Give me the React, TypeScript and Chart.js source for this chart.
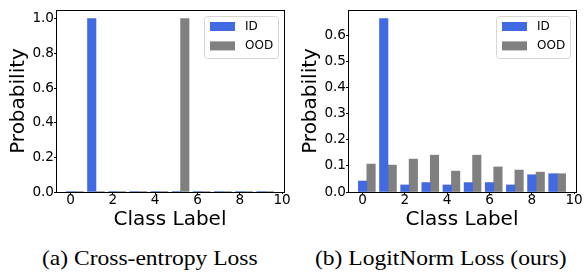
import React, { useEffect, useRef } from "react";
import { Chart, registerables } from "chart.js";

Chart.register(...registerables);

// ---- data ----
const classLabels = [0, 1, 2, 3, 4, 5, 6, 7, 8, 9];
const seriesNames = ["ID", "OOD"];
const ceIdProb = [0.003, 1.0, 0.003, 0.003, 0.003, 0.003, 0.003, 0.003, 0.003, 0.003];
const ceOodProb = [0.003, 0.003, 0.003, 0.003, 0.003, 1.0, 0.003, 0.003, 0.003, 0.003];
const lnIdProb = [0.042, 0.664, 0.027, 0.036, 0.027, 0.036, 0.036, 0.027, 0.066, 0.07];
const lnOodProb = [0.107, 0.103, 0.126, 0.141, 0.08, 0.141, 0.096, 0.084, 0.076, 0.07];
const xTickValues = [0, 2, 4, 6, 8, 10];
const ceYTicks = [0, 0.2, 0.4, 0.6, 0.8, 1.0];
const lnYTicks = [0, 0.1, 0.2, 0.3, 0.4, 0.5, 0.6];
const ceYMax = 1.05;
const lnYMax = 0.697;
const xMin = -0.69;
const xMax = 10.09;
const oodOffset = 0.4;
const captions = ["(a) Cross-entropy Loss", "(b) LogitNorm Loss (ours)"];
const xTitle = "Class Label";
const yTitle = "Probability";

const COLORS = ["#4169e1", "#808080"];
const FAMILY = '"DejaVu Sans", sans-serif';

type Props = { idVals: number[]; oodVals: number[]; yTicks: number[]; yMax: number };

function ProbChart({ idVals, oodVals, yTicks, yMax }: Props) {
  const ref = useRef<HTMLCanvasElement>(null);
  useEffect(() => {
    const framePlugin = {
      id: "frameLegend",
      afterDatasetsDraw(chart: any) {
        const { ctx, chartArea: a } = chart;
        ctx.save();
        ctx.strokeStyle = "#000";
        ctx.lineWidth = 1;
        ctx.strokeRect(a.left + 0.5, a.top + 0.5, a.right - a.left, a.bottom - a.top);
        // legend inside the plot (upper right)
        const bx = Math.round(a.right - 80) + 0.5;
        const by = Math.round(a.top + 7) - 0.5;
        const bw = 74;
        const bh = 42;
        ctx.beginPath();
        ctx.roundRect(bx, by, bw, bh, 3);
        ctx.fillStyle = "rgba(255,255,255,0.8)";
        ctx.fill();
        ctx.strokeStyle = "#d6d6d6";
        ctx.stroke();
        const ds = chart.data.datasets;
        ctx.font = `12px ${FAMILY}`;
        ctx.textBaseline = "middle";
        ctx.textAlign = "left";
        for (let i = 0; i < ds.length; i++) {
          const hy = by + 5.5 + i * 19.4;
          ctx.fillStyle = ds[i].backgroundColor;
          ctx.fillRect(bx + 5.5, hy, 25, 9);
          ctx.fillStyle = "#000";
          ctx.fillText(ds[i].label, bx + 40.5, hy + 4.8);
        }
        ctx.restore();
      },
    };
    const chart = new Chart(ref.current as HTMLCanvasElement, {
      type: "bar",
      data: {
        datasets: [
          {
            label: seriesNames[0],
            data: classLabels.map((c, i) => ({ x: c, y: idVals[i] })),
            backgroundColor: COLORS[0],
            grouped: false,
            barPercentage: 1,
            categoryPercentage: 1,
            borderWidth: 0,
          },
          {
            label: seriesNames[1],
            data: classLabels.map((c, i) => ({ x: c + oodOffset, y: oodVals[i] })),
            backgroundColor: COLORS[1],
            grouped: false,
            barPercentage: 1,
            categoryPercentage: 1,
            borderWidth: 0,
          },
        ] as any,
      },
      options: {
        animation: false,
        responsive: false,
        layout: { padding: { left: 0, top: 10, right: 8, bottom: 0 } },
        plugins: { legend: { display: false }, tooltip: { enabled: false } },
        scales: {
          x: {
            type: "linear",
            min: xMin,
            max: xMax,
            offset: false,
            afterBuildTicks: (s: any) => {
              s.ticks = xTickValues.map((v) => ({ value: v }));
            },
            afterFit: (s: any) => {
              s.height = 48;
            },
            grid: { display: true, drawOnChartArea: false, drawTicks: true, tickLength: 2, color: "#000", offset: false },
            border: { display: false },
            ticks: {
              color: "#000",
              font: { family: FAMILY, size: 13.6 },
              padding: -2,
              maxRotation: 0,
              autoSkip: false,
              callback: (v: any) => String(v),
            },
            title: {
              display: true,
              text: xTitle,
              color: "#000",
              font: { family: FAMILY, size: 20 },
              padding: { top: 0, bottom: 8 },
            },
          },
          y: {
            type: "linear",
            min: 0,
            max: yMax,
            afterBuildTicks: (s: any) => {
              s.ticks = yTicks.map((v) => ({ value: v }));
            },
            afterFit: (s: any) => {
              s.width = 56;
            },
            grid: { display: true, drawOnChartArea: false, drawTicks: true, tickLength: 2, color: "#000" },
            border: { display: false },
            ticks: {
              color: "#000",
              font: { family: FAMILY, size: 13.6 },
              padding: 0,
              autoSkip: false,
              callback: (v: any) => Number(v).toFixed(1),
            },
            title: {
              display: true,
              text: yTitle,
              color: "#000",
              font: { family: FAMILY, size: 20 },
              padding: { top: 7, bottom: 0 },
            },
          },
        },
      } as any,
      plugins: [framePlugin],
    });
    return () => chart.destroy();
  }, [idVals, oodVals, yTicks, yMax]);
  return <canvas ref={ref} width={292} height={240} style={{ display: "block", width: 292, height: 240 }} />;
}

export default function App() {
  const capStyle: React.CSSProperties = {
    position: "absolute",
    top: 248,
    fontFamily: '"Liberation Serif", "Times New Roman", serif',
    fontSize: 21,
    lineHeight: "21px",
    color: "#000",
    whiteSpace: "nowrap",
    transform: "scaleX(1.12)",
    transformOrigin: "left top",
  };
  return (
    <div style={{ position: "absolute", left: 0, top: 0, width: 584, height: 274, background: "#fff", overflow: "hidden" }}>
      <div style={{ position: "absolute", left: 0, top: 0 }}>
        <ProbChart idVals={ceIdProb} oodVals={ceOodProb} yTicks={ceYTicks} yMax={ceYMax} />
      </div>
      <div style={{ position: "absolute", left: 292, top: 0 }}>
        <ProbChart idVals={lnIdProb} oodVals={lnOodProb} yTicks={lnYTicks} yMax={lnYMax} />
      </div>
      <div style={{ ...capStyle, left: 42 }}>{captions[0]}</div>
      <div style={{ ...capStyle, left: 315 }}>{captions[1]}</div>
    </div>
  );
}
